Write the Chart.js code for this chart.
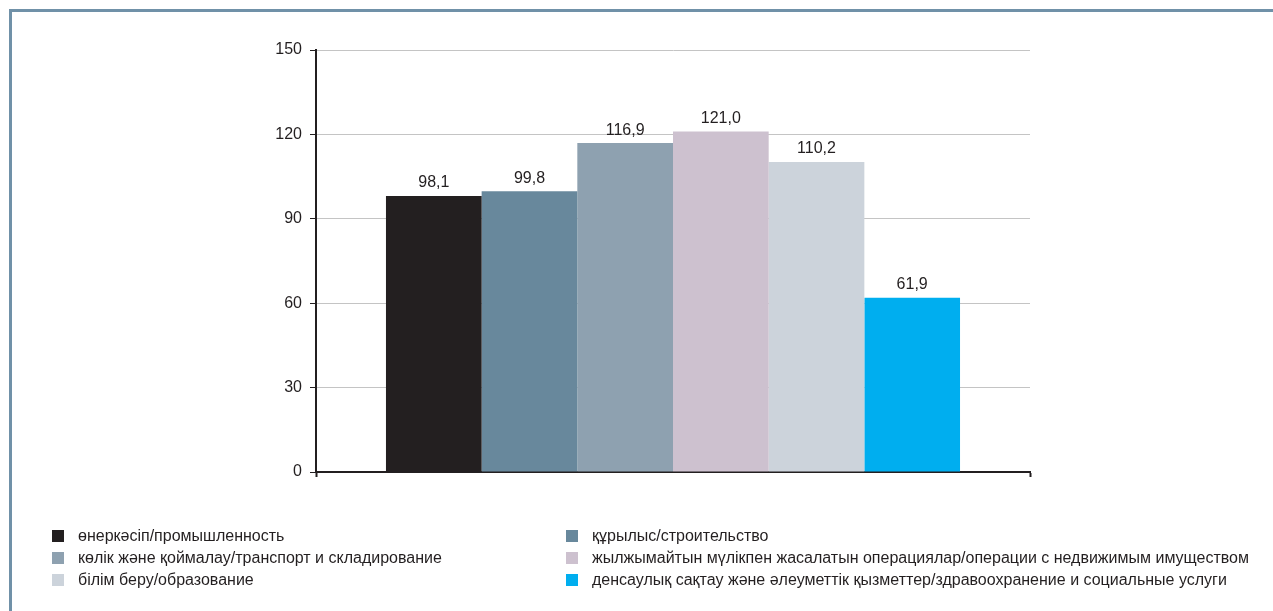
<!DOCTYPE html>
<html>
<head>
<meta charset="utf-8">
<script src="https://cdn.jsdelivr.net/npm/chart.js@4.4.1/dist/chart.umd.min.js"></script>
<style>
  body { margin: 0; background: #fff; font-family: "Liberation Sans", Arial, sans-serif; }
  #wrap { position: relative; width: 1273px; height: 611px; overflow: hidden; }
  #frame { position: absolute; left: 9px; top: 9px; right: 0; bottom: 0;
           border-top: 3px solid #7091a8; border-left: 3px solid #7091a8; }
  canvas { position: absolute; left: 0; top: 0; }
  .leg { position: absolute; font-size: 16px; line-height: 18px; color: #231f20; white-space: nowrap; }
  .leg span { position: absolute; left: 0; top: 3px; width: 12px; height: 12px; }
  .leg div { position: absolute; left: 26px; top: 0; }
</style>
</head>
<body>
<div id="wrap">
  <div id="frame"></div>
  <canvas id="chart" width="1273" height="611"></canvas>
  <div id="legend"></div>
</div>
<script>
// Daten
const categories = [''];
const seriesNames = [
  'өнеркәсіп/промышленность',
  'құрылыс/строительство',
  'көлік және қоймалау/транспорт и складирование',
  'жылжымайтын мүлікпен жасалатын операциялар/операции с недвижимым имуществом',
  'білім беру/образование',
  'денсаулық сақтау және әлеуметтік қызметтер/здравоохранение и социальные услуги'
];
const seriesValues = [98.1, 99.8, 116.9, 121.0, 110.2, 61.9];
const seriesColors = ['#231f20', '#68889c', '#8ea1b0', '#cdc1cf', '#ccd3db', '#00aeef'];
const yTicks = [0, 30, 60, 90, 120, 150];

const datasets = seriesNames.map((name, i) => ({
  label: name,
  data: [seriesValues[i]],
  backgroundColor: seriesColors[i],
  borderWidth: 0,
  barPercentage: 1,
  categoryPercentage: 0.804
}));

// Werte über den Balken
const valueLabels = {
  id: 'valueLabels',
  afterDatasetsDraw(chart) {
    const ctx = chart.ctx;
    ctx.save();
    ctx.font = '16px "Liberation Sans", Arial, sans-serif';
    ctx.fillStyle = '#231f20';
    ctx.textAlign = 'center';
    ctx.textBaseline = 'bottom';
    chart.data.datasets.forEach((ds, i) => {
      const bar = chart.getDatasetMeta(i).data[0];
      ctx.fillText(ds.data[0].toFixed(1).replace('.', ','), bar.x, bar.y - 5);
    });
    ctx.restore();
  }
};

new Chart(document.getElementById('chart'), {
  type: 'bar',
  data: { labels: categories, datasets: datasets },
  options: {
    responsive: false,
    animation: false,
    layout: { padding: { top: 50, right: 243, left: 0, bottom: 0 } },
    plugins: { legend: { display: false }, tooltip: { enabled: false } },
    scales: {
      x: {
        grid: { display: true, drawOnChartArea: false, tickLength: 5, tickColor: '#231f20', tickWidth: 2, offset: true },
        border: { color: '#231f20', width: 2 },
        ticks: { display: false },
        afterFit(scale) { scale.height = 139; }
      },
      y: {
        min: 0, max: 150,
        afterBuildTicks(scale) { scale.ticks = yTicks.map(v => ({ value: v })); },
        grid: { color: '#c4c4c4', lineWidth: 1, tickLength: 6, tickColor: '#231f20' },
        border: { color: '#231f20', width: 2 },
        ticks: { color: '#231f20', font: { family: '"Liberation Sans", Arial, sans-serif', size: 16 }, padding: 8 },
        afterFit(scale) { scale.width = 316; }
      }
    }
  },
  plugins: [valueLabels]
});

// Legende (zwei Spalten)
const legend = document.getElementById('legend');
seriesNames.forEach((name, i) => {
  const col = i % 2, row = Math.floor(i / 2);
  const item = document.createElement('div');
  item.className = 'leg';
  item.style.left = (col === 0 ? 52 : 566) + 'px';
  item.style.top = (527 + row * 22) + 'px';
  item.innerHTML = `<span style="background:${seriesColors[i]}"></span><div>${name}</div>`;
  legend.appendChild(item);
});
</script>
</body>
</html>
